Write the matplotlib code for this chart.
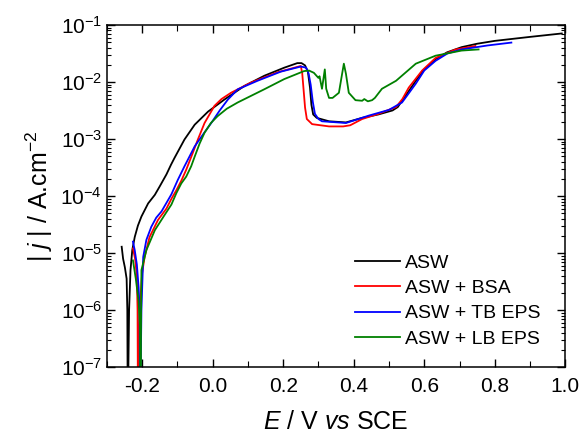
import numpy as np
import matplotlib
matplotlib.use("Agg")
import matplotlib.pyplot as plt
from matplotlib.ticker import MultipleLocator, LogLocator, NullFormatter

plt.rcParams['font.family'] = ['Liberation Sans', 'DejaVu Sans']
plt.rcParams['mathtext.fontset'] = 'custom'
plt.rcParams['mathtext.rm'] = 'Liberation Sans'
plt.rcParams['mathtext.it'] = 'Liberation Sans:italic'
plt.rcParams['mathtext.default'] = 'regular'
plt.rcParams['axes.unicode_minus'] = False

# E (V vs SCE) and log10 |j| (A/cm2)
E_asw = [-0.258, -0.254, -0.249, -0.244, -0.242, -0.241,
         -0.240, -0.237, -0.233, -0.228, -0.221, -0.212, -0.202, -0.183, -0.164,
         -0.150, -0.131, -0.118, -0.108, -0.094, -0.080, -0.051, -0.013, 0.033,
         0.090, 0.147, 0.203, 0.240, 0.252, 0.262, 0.270, 0.276, 0.280, 0.285,
         0.295, 0.33, 0.378, 0.424, 0.47, 0.51, 0.525, 0.537, 0.555, 0.576,
         0.60, 0.632, 0.665, 0.706, 0.75, 0.80, 0.90, 0.99]
logj_asw = [-4.89, -5.10, -5.25, -5.45, -6.0, -7.5,
            -7.5, -6.0, -5.3, -4.95, -4.72, -4.52, -4.36, -4.13, -3.98,
            -3.83, -3.62, -3.45, -3.33, -3.17, -3.01, -2.75, -2.52, -2.31,
            -2.07, -1.89, -1.75, -1.67, -1.67, -1.71, -1.82, -2.1, -2.4, -2.57,
            -2.63, -2.69, -2.71, -2.63, -2.57, -2.5, -2.44, -2.33, -2.17, -1.98,
            -1.78, -1.6, -1.48, -1.39, -1.33, -1.28, -1.21, -1.15]

E_bsa = [-0.226, -0.220, -0.215, -0.213, -0.212,
         -0.211, -0.207, -0.200, -0.193, -0.179, -0.155, -0.131, -0.117, -0.103,
         -0.088, -0.075, -0.058, -0.042, -0.023, 0.005, 0.025, 0.052, 0.109,
         0.184, 0.25, 0.254, 0.258, 0.262, 0.267, 0.282, 0.33, 0.37, 0.39,
         0.424, 0.47, 0.52, 0.538, 0.556, 0.594, 0.632, 0.689, 0.745]
logj_bsa = [-4.92, -5.1, -5.4, -6.0, -7.5,
            -7.5, -6.0, -5.35, -5.07, -4.72, -4.42, -4.22, -4.05, -3.9,
            -3.72, -3.54, -3.27, -3.01, -2.72, -2.42, -2.3, -2.19, -2.01,
            -1.83, -1.72, -1.85, -2.15, -2.45, -2.65, -2.74, -2.78, -2.78, -2.76,
            -2.65, -2.56, -2.44, -2.3, -2.1, -1.8, -1.58, -1.43, -1.37]

E_tb = [-0.226, -0.221, -0.215, -0.210, -0.207, -0.206,
        -0.205, -0.202, -0.197, -0.188, -0.174, -0.160, -0.145, -0.117, -0.099,
        -0.080, -0.051, -0.025, -0.004, 0.02, 0.043, 0.071, 0.127, 0.193,
        0.25, 0.265, 0.272, 0.278, 0.284, 0.29, 0.30, 0.31, 0.378, 0.443,
        0.50, 0.537, 0.556, 0.576, 0.60, 0.632, 0.666, 0.706, 0.78, 0.847]
logj_tb = [-4.80, -4.95, -5.2, -5.6, -6.0, -7.5,
           -7.5, -6.0, -5.07, -4.77, -4.54, -4.38, -4.27, -3.97, -3.72,
           -3.48, -3.13, -2.9, -2.72, -2.5, -2.31, -2.13, -1.98, -1.82,
           -1.73, -1.75, -1.85, -2.05, -2.35, -2.56, -2.65, -2.69, -2.72, -2.59,
           -2.49, -2.36, -2.2, -2.03, -1.8, -1.63, -1.5, -1.43, -1.36, -1.31]

E_lb = [-0.226, -0.218, -0.210, -0.206, -0.205,
        -0.204, -0.203, -0.202, -0.188, -0.164, -0.136, -0.117, -0.103, -0.089,
        -0.075, -0.061, -0.051, -0.037, -0.023, -0.005, 0.014, 0.04, 0.071,
        0.146, 0.203, 0.259, 0.273, 0.287, 0.30, 0.303, 0.31, 0.318, 0.322,
        0.33, 0.34, 0.358, 0.367, 0.372, 0.378, 0.386, 0.405, 0.424, 0.43,
        0.44, 0.452, 0.46, 0.48, 0.52, 0.576, 0.632, 0.706, 0.754]
logj_lb = [-5.13, -5.45, -5.85, -6.3, -7.5,
           -7.5, -6.0, -5.30, -4.95, -4.60, -4.33, -4.15, -3.95, -3.78,
           -3.66, -3.48, -3.31, -3.08, -2.89, -2.72, -2.60, -2.47, -2.36,
           -2.13, -1.95, -1.81, -1.8, -1.84, -1.93, -1.9, -2.12, -1.78, -2.12,
           -2.28, -2.28, -2.19, -1.86, -1.68, -1.86, -2.19, -2.32, -2.33, -2.3,
           -2.34, -2.32, -2.28, -2.12, -1.98, -1.68, -1.54, -1.45, -1.43]

series = [
    (E_asw, logj_asw, 'black', 'ASW'),
    (E_bsa, logj_bsa, 'red', 'ASW + BSA'),
    (E_tb, logj_tb, 'blue', 'ASW + TB EPS'),
    (E_lb, logj_lb, 'green', 'ASW + LB EPS'),
]

fig = plt.figure(figsize=(5.84, 4.37), dpi=100)
ax = fig.add_axes([0.183, 0.160, 0.785, 0.783])

for E, lj, col, lab in series:
    ax.plot(E, np.power(10.0, lj), color=col, lw=1.3, label=lab)

ax.set_yscale('log')
ax.set_xlim(-0.3, 1.0)
ax.set_ylim(1e-7, 1e-1)
ax.xaxis.set_major_locator(MultipleLocator(0.2))
ax.xaxis.set_minor_locator(MultipleLocator(0.1))
ax.xaxis.set_major_formatter(plt.FuncFormatter(lambda v, p: f"{v:.1f}"))
ax.yaxis.set_major_locator(LogLocator(base=10, numticks=10))
ax.yaxis.set_minor_locator(LogLocator(base=10, subs=np.arange(2, 10), numticks=10))
ax.yaxis.set_minor_formatter(NullFormatter())

ax.tick_params(which='both', direction='in', top=True, right=True, labelsize=15)
ax.tick_params(which='major', length=6, width=1)
ax.tick_params(which='minor', length=3, width=0.8)
ax.tick_params(axis='x', which='minor', length=4)
ax.tick_params(axis='x', which='major', pad=7)
for s in ax.spines.values():
    s.set_linewidth(1.1)

ax.set_xlabel(r'$\it{E}$ / V $\it{vs}$ SCE', fontsize=18, labelpad=10)
ax.set_ylabel(r'| $\it{j}$ | / A.cm$^{-2}$', fontsize=18)

ax.legend(loc='lower right', frameon=False, fontsize=14, handlelength=2.3,
          handletextpad=0.3, labelspacing=0.4, bbox_to_anchor=(0.985, 0.005))

fig.savefig('out.png', dpi=100)
